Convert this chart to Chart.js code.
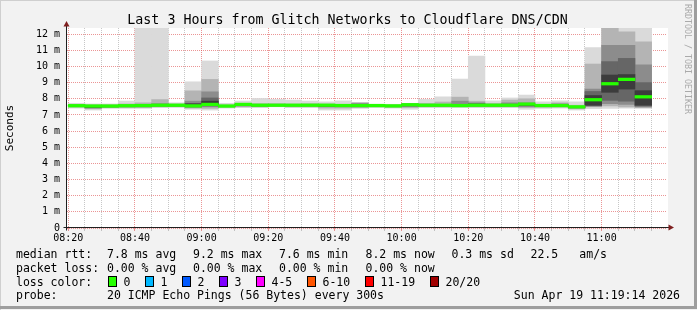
<!DOCTYPE html>
<html><head><meta charset="utf-8">
<script src="https://cdn.jsdelivr.net/npm/chart.js@4.4.1/dist/chart.umd.min.js"></script>
<style>html,body{margin:0;padding:0;background:#f2f2f2;}canvas{display:block;}</style>
</head><body>
<canvas id="c" width="697" height="310"></canvas>
<script>
// ---- data ----
const binStarts = ['08:20','08:25','08:30','08:35','08:40','08:45','08:50','08:55',
  '09:00','09:05','09:10','09:15','09:20','09:25','09:30','09:35','09:40','09:45','09:50','09:55',
  '10:00','10:05','10:10','10:15','10:20','10:25','10:30','10:35','10:40','10:45','10:50','10:55',
  '11:00','11:05','11:10'];
const median = [7.57,7.55,7.55,7.57,7.58,7.60,7.60,7.56,
  7.65,7.55,7.65,7.60,7.60,7.60,7.60,7.60,7.58,7.58,7.58,7.56,
  7.63,7.60,7.60,7.58,7.60,7.60,7.60,7.67,7.58,7.58,7.50,7.94,
  8.93,9.20,8.12];
const smokeMax = [7.72,7.68,7.68,7.86,13.5,13.5,7.75,9.05,
  10.34,7.72,7.86,8.02,7.96,7.92,7.86,7.81,7.87,7.78,7.66,7.66,
  7.72,7.96,8.12,9.22,10.64,7.87,8.05,8.23,7.81,7.87,7.81,11.17,
  13.5,13.0,12.9];
const smokeMin = [7.42,7.30,7.40,7.40,7.40,7.45,7.47,7.35,
  7.30,7.42,7.45,7.45,7.50,7.45,7.45,7.30,7.30,7.40,7.45,7.42,
  7.35,7.45,7.45,7.45,7.45,7.45,7.45,7.35,7.40,7.42,7.30,7.38,
  7.40,7.42,7.40];
const band2Hi = [7.65,7.62,7.62,7.68,7.75,7.95,7.68,8.49,
  9.20,7.62,7.72,7.70,7.70,7.68,7.70,7.68,7.66,7.75,7.64,7.62,
  7.70,7.72,7.80,8.10,7.85,7.72,7.92,8.00,7.66,7.75,7.60,10.15,
  13.0,12.15,11.53];
const band2Lo = [7.48,7.38,7.45,7.45,7.45,7.50,7.50,7.42,
  7.40,7.48,7.50,7.50,7.53,7.50,7.50,7.42,7.42,7.45,7.50,7.47,
  7.45,7.50,7.50,7.50,7.50,7.50,7.50,7.45,7.47,7.48,7.38,7.50,
  7.55,7.50,7.45];
const band3Hi = [7.60,7.58,7.58,7.60,7.62,7.70,7.63,7.85,
  8.43,7.58,7.68,7.63,7.63,7.63,7.63,7.63,7.60,7.70,7.60,7.58,
  7.68,7.63,7.65,7.85,7.75,7.63,7.75,7.75,7.60,7.68,7.53,8.60,
  11.30,11.30,10.10];
const band3Lo = [7.52,7.42,7.48,7.50,7.50,7.54,7.54,7.47,
  7.50,7.50,7.55,7.54,7.56,7.55,7.55,7.50,7.50,7.50,7.53,7.50,
  7.52,7.54,7.54,7.54,7.54,7.54,7.54,7.52,7.52,7.52,7.42,7.60,
  7.70,7.65,7.50];
const band4Hi = [7.58,7.56,7.56,7.58,7.60,7.65,7.61,7.72,
  8.05,7.56,7.67,7.61,7.61,7.61,7.61,7.61,7.59,7.66,7.59,7.57,
  7.66,7.61,7.61,7.62,7.70,7.61,7.66,7.70,7.59,7.64,7.52,8.45,
  10.30,10.50,9.00];
const band4Lo = [7.54,7.45,7.50,7.53,7.53,7.56,7.56,7.50,
  7.56,7.52,7.58,7.56,7.57,7.57,7.57,7.53,7.53,7.53,7.55,7.52,
  7.55,7.56,7.56,7.56,7.56,7.56,7.56,7.56,7.54,7.54,7.45,7.55,
  7.90,7.85,7.55];
const band5Hi = [7.57,7.55,7.55,7.57,7.58,7.62,7.60,7.68,
  7.85,7.55,7.66,7.60,7.60,7.60,7.60,7.60,7.58,7.60,7.58,7.56,
  7.64,7.60,7.60,7.60,7.62,7.60,7.62,7.66,7.58,7.60,7.50,8.20,
  9.47,9.50,8.50];
const band5Lo = [7.55,7.48,7.52,7.55,7.55,7.58,7.58,7.52,
  7.60,7.53,7.60,7.58,7.58,7.58,7.58,7.55,7.55,7.55,7.56,7.53,
  7.58,7.58,7.58,7.58,7.58,7.58,7.58,7.60,7.55,7.55,7.47,7.60,
  8.40,8.60,7.60];
const xTickLabels = ['08:20','08:40','09:00','09:20','09:40','10:00','10:20','10:40','11:00'];
const yTickLabels = ['0','1 m','2 m','3 m','4 m','5 m','6 m','7 m','8 m','9 m','10 m','11 m','12 m'];
const timeWindow = ['08:19:37','11:19:37'];
const yMax = 12.38;
const titleText = 'Last 3 Hours from Glitch Networks to Cloudflare DNS/CDN';
const rttStats = ['7.8 ms avg','9.2 ms max','7.6 ms min','8.2 ms now','0.3 ms sd','22.5','am/s'];
const lossStats = ['0.00 % avg','0.00 % max','0.00 % min','0.00 % now'];
const lossLabels = ['0','1','2','3','4-5','6-10','11-19','20/20'];
const lossColors = ['#26ff00','#00b8ff','#0059ff','#7e00ff','#ff00ff','#ff5500','#ff0000','#a10000'];
const probeText = '20 ICMP Echo Pings (56 Bytes) every 300s';
const dateText = 'Sun Apr 19 11:19:14 2026';

// ---- helpers / styles ----
const FONT = '"DejaVu Sans Mono", monospace';
const MAJOR = 'rgba(222,79,79,0.6)';
const MINOR = 'rgba(143,143,143,0.5)';
const BIN = 5;
const toMin = s => { const p = s.split(':').map(Number); return p[0]*60 + p[1] + (p[2]||0)/60; };
const centers = binStarts.map(s => toMin(s) + BIN/2);
const band = (lo, hi) => centers.map((x,i) => ({x, y:[lo[i], hi[i]]}));
const MEDIAN_HALF = 0.08;
const medianBars = centers.map((x,i) => ({x, y:[median[i]-MEDIAN_HALF, median[i]+MEDIAN_HALF]}));
const majorX = xTickLabels.map(toMin);
const isMajorX = v => majorX.some(m => Math.abs(m - v) < 1e-6);
const ds = (data, color, order) => ({type:'bar', data, backgroundColor: color, borderWidth:0,
  grouped:false, barPercentage:1, categoryPercentage:1, order, clip:0});

const decor = {
  id:'decor',
  beforeDraw(chart){
    const ctx = chart.ctx, a = chart.chartArea;
    ctx.save();
    ctx.fillStyle = '#f2f2f2'; ctx.fillRect(0,0,697,310);
    ctx.fillStyle = '#cfcfcf'; ctx.fillRect(0,0,697,1); ctx.fillRect(0,0,1,310);
    ctx.fillStyle = '#9e9e9e'; ctx.fillRect(0,306,697,3); ctx.fillRect(694,0,3,309);
    ctx.fillStyle = '#ffffff'; ctx.fillRect(a.left, a.top, a.right - a.left + 1, a.bottom - a.top);
    ctx.restore();
  },
  afterDraw(chart){
    const ctx = chart.ctx, a = chart.chartArea;
    ctx.save();
    // axes
    const ax = Math.round(a.left) - 0.5, ay = Math.round(a.bottom) - 0.5;
    ctx.strokeStyle = '#1f1f1f'; ctx.lineWidth = 1;
    ctx.beginPath();
    ctx.moveTo(ax, ay + 3); ctx.lineTo(ax, a.top - 2);
    ctx.moveTo(ax - 3, ay); ctx.lineTo(a.right + 3, ay);
    ctx.stroke();
    ctx.fillStyle = '#7f1f1f';
    ctx.beginPath(); ctx.moveTo(ax, a.top - 7); ctx.lineTo(ax - 3, a.top - 1.5); ctx.lineTo(ax + 3, a.top - 1.5); ctx.closePath(); ctx.fill();
    ctx.beginPath(); ctx.moveTo(a.right + 7, ay); ctx.lineTo(a.right + 1.5, ay - 3); ctx.lineTo(a.right + 1.5, ay + 3); ctx.closePath(); ctx.fill();
    // title
    ctx.fillStyle = '#000';
    ctx.textBaseline = 'alphabetic';
    ctx.font = '13.3px ' + FONT; ctx.textAlign = 'center';
    ctx.fillText(titleText, 347.5, 23.5);
    // y title
    ctx.save(); ctx.translate(10.5, 128); ctx.rotate(-Math.PI/2);
    ctx.font = '11px ' + FONT; ctx.textBaseline = 'middle'; ctx.fillText('Seconds', 0, 0); ctx.restore();
    // watermark
    ctx.save(); ctx.translate(687, 59); ctx.rotate(Math.PI/2);
    ctx.font = '8.3px ' + FONT; ctx.textBaseline = 'middle'; ctx.fillStyle = '#aaaaaa';
    ctx.fillText('RRDTOOL / TOBI OETIKER', 0, 0); ctx.restore();
    // legend
    ctx.font = '11.5px ' + FONT; ctx.textAlign = 'left'; ctx.fillStyle = '#000';
    const rows = [258.3, 272.2, 286.1, 299.2];
    ctx.fillText('median rtt:', 16, rows[0]);
    [107, 193, 279, 365.5, 451.5, 530.5, 579.3].forEach((x,i) => ctx.fillText(rttStats[i], x, rows[0]));
    ctx.fillText('packet loss:', 16, rows[1]);
    [107, 193, 279, 365.5].forEach((x,i) => ctx.fillText(lossStats[i], x, rows[1]));
    ctx.fillText('loss color:', 16, rows[2]);
    const boxX = [108.5, 145.5, 182.5, 219.5, 256.5, 307.5, 365.5, 430.5];
    boxX.forEach((x,i) => {
      ctx.fillStyle = lossColors[i]; ctx.fillRect(x, 276.5, 8, 10);
      ctx.strokeStyle = '#000'; ctx.lineWidth = 1; ctx.strokeRect(x, 276.5, 8, 10);
      ctx.fillStyle = '#000'; ctx.fillText(lossLabels[i], x + 15, rows[2]);
    });
    ctx.fillText('probe:', 16, rows[3]);
    ctx.fillText(probeText, 107, rows[3]);
    ctx.textAlign = 'right'; ctx.fillText(dateText, 680, rows[3]);
    ctx.restore();
  }
};

new Chart(document.getElementById('c'), {
  type:'bar',
  data:{ datasets:[
    ds(medianBars, '#26ff00', 1),
    ds(band(band5Lo, band5Hi), '#3c3c3c', 2),
    ds(band(band4Lo, band4Hi), '#666666', 3),
    ds(band(band3Lo, band3Hi), '#8c8c8c', 4),
    ds(band(band2Lo, band2Hi), '#b4b4b4', 5),
    ds(band(smokeMin, smokeMax), '#dadada', 6)
  ]},
  options:{
    responsive:false, animation:false, devicePixelRatio:1,
    layout:{ padding:{ left:0, right:30, top:28, bottom:62 } },
    plugins:{ legend:{display:false}, title:{display:false}, tooltip:{enabled:false} },
    scales:{
      x:{ type:'linear', min:toMin(timeWindow[0]), max:toMin(timeWindow[1]), offset:false, z:1,
        afterBuildTicks: s => { const t=[]; for (let v = Math.ceil(s.min/BIN)*BIN; v <= s.max; v += BIN) t.push({value:v}); s.ticks = t; },
        afterFit: s => { s.height = 20; },
        grid:{ offset:false, color: c => isMajorX(c.tick.value) ? MAJOR : MINOR, lineWidth:1, drawTicks:true, tickLength:3 },
        border:{ display:false, dash:[1,1] },
        ticks:{ autoSkip:false, maxRotation:0, minRotation:0, padding:1, color:'#000', font:{family:FONT, size:10},
          callback: v => { const i = majorX.findIndex(m => Math.abs(m - v) < 1e-6); return i >= 0 ? xTickLabels[i] : ''; } }
      },
      y:{ min:0, max:yMax, z:1,
        afterBuildTicks: s => { const t=[]; for (let v = 0; v <= 12; v += 0.5) t.push({value:v}); s.ticks = t; },
        afterFit: s => { s.width = 67; },
        grid:{ color: c => Number.isInteger(c.tick.value) ? MAJOR : MINOR, lineWidth:1, drawTicks:false },
        border:{ display:false, dash:[1,1] },
        ticks:{ padding:7, color:'#000', font:{family:FONT, size:10},
          callback: v => Number.isInteger(v) ? yTickLabels[v] : '' }
      }
    }
  },
  plugins:[decor]
});
</script>
</body></html>
